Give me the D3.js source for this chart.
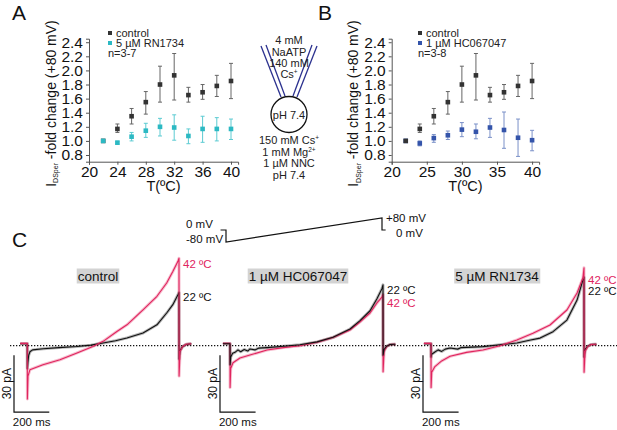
<!DOCTYPE html>
<html>
<head>
<meta charset="utf-8">
<script src="https://cdn.jsdelivr.net/npm/d3@7"></script>
<style>
  body { margin: 0; background: #fff; }
  svg { font-family: "Liberation Sans", Arial, sans-serif; }
</style>
</head>
<body>
<svg width="617" height="430"></svg>
<script>
// ---- panel A / B data (fold change of I_DSper at +80 mV) ----
const temps = [22, 24, 26, 28, 30, 32, 34, 36, 38, 40];
const ctrlMean = [1.00, 1.17, 1.35, 1.55, 1.80, 1.93, 1.65, 1.69, 1.78, 1.85];
const ctrlLow  = [1.00, 1.12, 1.24, 1.38, 1.55, 1.58, 1.55, 1.59, 1.63, 1.60];
const ctrlHigh = [1.00, 1.24, 1.46, 1.70, 2.06, 2.24, 1.76, 1.80, 1.93, 2.10];
const rnMean = [1.00, 0.975, 1.06, 1.145, 1.20, 1.19, 1.07, 1.17, 1.17, 1.17];
const rnLow  = [1.00, 0.955, 1.00, 1.05, 1.07, 1.01, 0.96, 0.98, 1.00, 1.02];
const rnHigh = [1.00, 0.995, 1.12, 1.25, 1.32, 1.37, 1.17, 1.35, 1.33, 1.31];
const hcMean = [1.00, 0.965, 1.04, 1.08, 1.16, 1.13, 1.19, 1.155, 1.045, 1.01];
const hcLow  = [1.00, 0.93, 0.98, 1.02, 1.06, 1.03, 1.05, 0.895, 0.78, 0.86];
const hcHigh = [1.00, 1.00, 1.09, 1.14, 1.26, 1.24, 1.32, 1.41, 1.31, 1.15];
const yTicks = [0.8, 1.0, 1.2, 1.4, 1.6, 1.8, 2.0, 2.2, 2.4];
const xTicksA = [20, 24, 28, 32, 36, 40];
const xTicksB = [20, 25, 30, 35, 40];

// ---- panel C: voltage ramp protocol ----
const rampMs = 860;
const protocol = [[-30, 0], [0, 0], [0, -80], [860, 80], [860, 0], [880, 0]];

// ---- panel C: current traces [ms, pA] ----
const ctrl22 = [[-40, 1], [0, 1], [0.5, -12], [3, -9], [8, -5], [15, -3.2], [30, -2.2], [90, -1.6],
  [180, -1.0], [280, -0.4], [360, 0.3], [430, 1.4], [500, 2.6], [565, 4.1], [656, 6.7], [735, 11],
  [790, 17.2], [825, 21.6], [854, 26.8], [860, 28], [860.5, -7], [866, -2.5], [880, -0.5], [900, 0.6], [930, 1]];
const ctrl42 = [[-40, 1.2], [0, 1.2], [0.5, -28], [4, -16], [15, -12.6], [89, -10], [185, -7.4],
  [282, -3.8], [372, -0.4], [430, 2.3], [508, 7.5], [565, 11], [656, 18.9], [735, 26], [790, 33],
  [825, 39], [854, 44.4], [860, 46], [860.5, -16], [866, -3], [880, -0.5], [900, 0.8], [930, 1]];
const hc22 = [[-40, 1], [0, 1], [0.5, -10], [4, -6], [15, -4], [28, -3.5], [45, -2.2], [60, -3.2],
  [80, -2], [100, -2.8], [112, -1.7], [140, -2.2], [160, -1.3], [208, -1], [300, -0.3], [393, 0.5],
  [490, 2], [579, 4.4], [675, 8.8], [731, 13.2], [787, 18.4], [826, 24.7], [854, 30], [860, 32],
  [860.5, -5], [866, -2], [880, -0.3], [900, 0.6], [930, 0.8]];
const hc42 = [[-40, 1.2], [0, 1.2], [0.5, -22], [4, -12], [17, -9], [56, -6.5], [112, -4.9],
  [208, -2.3], [300, -1], [393, 0], [490, 1.8], [579, 4.3], [675, 8.3], [731, 12.5], [787, 17.2],
  [826, 22.5], [854, 25.6], [860, 27], [860.5, -13.7], [866, -3], [880, -0.5], [900, 0.6], [930, 0.8]];
const rn22 = [[-40, 1], [0, 1], [0.5, -6], [4, -4.5], [22, -3.3], [40, -2.2], [60, -3], [80, -1.8],
  [107, -1.2], [150, -1.8], [170, -1], [292, -0.5], [400, 0.6], [483, 1.4], [560, 3], [613, 4],
  [686, 7.4], [764, 13.5], [821, 24], [854, 34.6], [860, 36], [860.5, -6], [866, -2], [880, -0.3],
  [900, 0.6], [930, 0.8]];
const rn42 = [[-40, 1.2], [0, 1.2], [0.5, -22], [4, -14], [22, -11], [60, -8], [107, -5.6], [200, -3.5],
  [292, -2.3], [388, 0], [483, 3], [573, 6.5], [669, 10.9], [764, 18.8], [821, 27.7], [854, 35.6],
  [860, 41], [860.5, -14], [866, -3], [880, -0.5], [900, 0.6], [930, 0.8]];

const pink = "#e0245e";
const dark = "#333";
const svg = d3.select("svg");

// panel letters
[["A", 12, 20], ["B", 318, 20], ["C", 12, 247]].forEach(([t, x, y]) => {
  svg.append("text").attr("x", x).attr("y", y).attr("font-size", 21).attr("fill", "#111").text(t);
});

function drawSeries(g, x, y, mean, low, high, color, barColor) {
  const data = temps.map((t, i) => ({ t, m: mean[i], lo: low[i], hi: high[i] }));
  const s = g.append("g");
  const bars = data.filter(d => d.hi > d.lo);
  s.selectAll(".bar").data(bars).enter().append("line")
    .attr("x1", d => x(d.t)).attr("x2", d => x(d.t))
    .attr("y1", d => y(d.lo)).attr("y2", d => y(d.hi))
    .attr("stroke", barColor).attr("stroke-width", 1);
  ["lo", "hi"].forEach(k => {
    s.selectAll(".cap-" + k).data(bars).enter().append("line")
      .attr("x1", d => x(d.t) - 2).attr("x2", d => x(d.t) + 2)
      .attr("y1", d => y(d[k])).attr("y2", d => y(d[k]))
      .attr("stroke", barColor).attr("stroke-width", 1);
  });
  s.selectAll("rect").data(data).enter().append("rect")
    .attr("x", d => x(d.t) - 2.3).attr("y", d => y(d.m) - 2.3)
    .attr("width", 4.6).attr("height", 4.6).attr("fill", color);
}

function scatterPanel(opt) {
  const g = svg.append("g");
  const x = d3.scaleLinear().domain([20, 41]).range([opt.left, opt.right]);
  const y = d3.scaleLinear().domain([0.705, 2.45]).range([161.7, 38.7]);

  const xAxis = d3.axisBottom(x).tickValues(opt.xTicks).tickSize(3).tickPadding(1)
    .tickFormat(d3.format("d"));
  const yAxis = d3.axisLeft(y).tickValues(yTicks).tickSize(3).tickPadding(3)
    .tickFormat(d3.format(".1f"));
  [g.append("g").attr("transform", `translate(0,${y.range()[0]})`).call(xAxis),
   g.append("g").attr("transform", `translate(${opt.left},0)`).call(yAxis)].forEach(a => {
    a.selectAll("path,line").attr("stroke", "#555");
    a.selectAll("text").attr("font-size", 15.5).attr("fill", "#111")
      .attr("font-family", '"Liberation Sans", Arial, sans-serif');
  });

  opt.series.forEach(s => drawSeries(g, x, y, s.mean, s.low, s.high, s.color, s.bar));

  // legend
  opt.legend.forEach((l, i) => {
    const ly = 33 + i * 10;
    g.append("rect").attr("x", opt.legendX - 2).attr("y", ly - 2).attr("width", 4).attr("height", 4)
      .attr("fill", l.color);
    g.append("text").attr("x", opt.legendX + 6).attr("y", ly).attr("dy", "0.35em")
      .attr("font-size", 11).attr("fill", "#222").text(l.label);
  });
  g.append("text").attr("x", opt.legendX - 2).attr("y", 53.5).attr("dy", "0.35em")
    .attr("font-size", 11).attr("fill", "#222").text(opt.n);

  // axis titles
  g.append("text").attr("x", (opt.left + opt.right) / 2).attr("y", 191)
    .attr("text-anchor", "middle").attr("font-size", 14.5).attr("fill", "#111").text("T(ºC)");
  const yt = g.append("text")
    .attr("transform", `translate(${opt.left - 33.5},103.5) rotate(-90)`)
    .attr("text-anchor", "middle").attr("font-size", 14).attr("fill", "#111");
  yt.append("tspan").text("I");
  yt.append("tspan").attr("font-size", 7).attr("dy", 2.5).text("DSper");
  yt.append("tspan").attr("dy", -2.5).text(" -fold change (+80 mV)");
}

scatterPanel({
  left: 89, right: 238.1, xTicks: xTicksA, legendX: 110, n: "n=3-7",
  series: [
    { mean: ctrlMean, low: ctrlLow, high: ctrlHigh, color: dark, bar: "#666" },
    { mean: rnMean, low: rnLow, high: rnHigh, color: "#2cb9c3", bar: "#5ccbd2" }
  ],
  legend: [{ label: "control", color: dark }, { label: "5 µM RN1734", color: "#2cb9c3" }]
});
scatterPanel({
  left: 391.7, right: 539.1, xTicks: xTicksB, legendX: 420, n: "n=3-8",
  series: [
    { mean: hcMean, low: hcLow, high: hcHigh, color: "#3454aa", bar: "#7a90c8" },
    { mean: ctrlMean, low: ctrlLow, high: ctrlHigh, color: dark, bar: "#666" }
  ],
  legend: [{ label: "control", color: dark }, { label: "1 µM HC067047", color: "#3454aa" }]
});

// ---- schematic of pipette and cell ----
const sch = svg.append("g");
const navy = "#2b318f";
[[261, 46, 281, 97], [266, 45, 285, 96], [312, 45, 293, 96], [317, 46, 297, 97]].forEach(([x1, y1, x2, y2]) => {
  sch.append("line").attr("x1", x1).attr("y1", y1).attr("x2", x2).attr("y2", y2)
    .attr("stroke", navy).attr("stroke-width", 1.3);
});
sch.append("circle").attr("cx", 289).attr("cy", 114.5).attr("r", 18)
  .attr("fill", "none").attr("stroke", "#111").attr("stroke-width", 1.3);
function schText(y, parts) {
  const t = sch.append("text").attr("x", 289).attr("y", y).attr("text-anchor", "middle")
    .attr("font-size", 11).attr("fill", "#222");
  parts.forEach(p => {
    if (typeof p === "string") t.append("tspan").text(p);
    else t.append("tspan").attr("font-size", 6.5).attr("dy", -4).text(p.sup);
  });
}
schText(44, ["4 mM"]);
schText(56, ["NaATP"]);
schText(67, ["140 mM"]);
schText(78, ["Cs", { sup: "+" }]);
schText(118.5, ["pH 7.4"]);
schText(144, ["150 mM Cs", { sup: "+" }]);
schText(156, ["1 mM Mg", { sup: "2+" }]);
schText(167, ["1 µM NNC"]);
schText(179, ["pH 7.4"]);

// ---- voltage protocol ----
const px = d3.scaleLinear().domain([0, rampMs]).range([226, 382]);
const py = d3.scaleLinear().domain([-80, 80]).range([242, 218]);
svg.append("path").datum(protocol)
  .attr("d", d3.line().x(d => px(d[0])).y(d => py(d[1])))
  .attr("fill", "none").attr("stroke", "#111").attr("stroke-width", 1.2);
[["0 mV", 186, 228], ["-80 mV", 186, 243], ["+80 mV", 386, 222], ["0 mV", 396, 237]].forEach(([t, x, y]) => {
  svg.append("text").attr("x", x).attr("y", y).attr("font-size", 11.5).attr("fill", "#111").text(t);
});

// ---- current traces ----
const baseY = 345.7;
const yI = d3.scaleLinear().domain([0, 30]).range([baseY, baseY - 57]);

svg.append("line").attr("x1", 10).attr("x2", 617).attr("y1", yI(0)).attr("y2", yI(0))
  .attr("stroke", "#111").attr("stroke-width", 1.3).attr("stroke-dasharray", "1.3,1.7");

function tracePanel(opt) {
  const g = svg.append("g");
  const x = d3.scaleLinear().domain([0, rampMs]).range([opt.x0, opt.x1]);
  const line = d3.line().x(d => x(d[0])).y(d => yI(d[1]));
  opt.traces.forEach(tr => {
    g.append("path").datum(tr.data).attr("d", line).attr("fill", "none")
      .attr("stroke", tr.color).attr("stroke-width", 3).attr("stroke-opacity", 0.3)
      .attr("stroke-linejoin", "round");
  });
  opt.traces.forEach(tr => {
    g.append("path").datum(tr.data).attr("d", line).attr("fill", "none")
      .attr("stroke", tr.color).attr("stroke-width", 1.1).attr("stroke-linejoin", "round");
  });

  // trace labels
  opt.labels.forEach(l => {
    g.append("text").attr("x", opt.x1 + 4).attr("y", l.y).attr("dy", "0.35em")
      .attr("font-size", 11.5).attr("fill", l.color).text(l.text);
  });

  // condition label in grey box
  const t = g.append("text").attr("x", opt.boxX).attr("y", 276).attr("dy", "0.35em")
    .attr("text-anchor", "middle").attr("font-size", 13.5).attr("fill", "#111").text(opt.title);
  const bb = t.node().getBBox();
  g.insert("rect", "text").attr("x", bb.x - 1).attr("y", 268.5).attr("width", bb.width + 2)
    .attr("height", 15).attr("fill", "#d3d3d3");

  // scale bars: 200 ms, 30 pA
  const bx = opt.barX;
  const barLen = x(200) - x(0);
  g.append("path")
    .attr("d", `M${bx},${yI(-5)}V${yI(-35)}H${bx + barLen}`)
    .attr("fill", "none").attr("stroke", "#111").attr("stroke-width", 1.2);
  g.append("text").attr("transform", `translate(${bx - 3.5},${yI(-20)}) rotate(-90)`)
    .attr("text-anchor", "middle").attr("font-size", 12).attr("fill", "#111").text("30 pA");
  g.append("text").attr("x", bx + barLen / 2).attr("y", 426).attr("text-anchor", "middle")
    .attr("font-size", 11.5).attr("fill", "#111").text("200 ms");
}

tracePanel({
  x0: 27.3, x1: 179, barX: 14, boxX: 98, title: "control",
  traces: [{ data: ctrl22, color: "#111" }, { data: ctrl42, color: pink }],
  labels: [{ text: "42 ºC", y: 264, color: pink }, { text: "22 ºC", y: 297, color: "#111" }]
});
tracePanel({
  x0: 230, x1: 383, barX: 220, boxX: 298, title: "1 µM HC067047",
  traces: [{ data: hc42, color: pink }, { data: hc22, color: "#111" }],
  labels: [{ text: "22 ºC", y: 290, color: "#111" }, { text: "42 ºC", y: 303, color: pink }]
});
tracePanel({
  x0: 431, x1: 584, barX: 423, boxX: 497, title: "5 µM RN1734",
  traces: [{ data: rn22, color: "#111" }, { data: rn42, color: pink }],
  labels: [{ text: "42 ºC", y: 280, color: pink }, { text: "22 ºC", y: 291, color: "#111" }]
});
</script>
</body>
</html>
